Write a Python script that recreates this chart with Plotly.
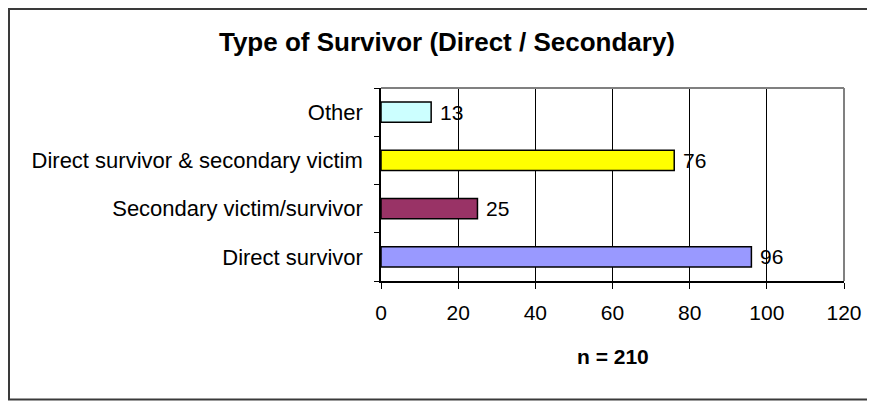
import plotly.graph_objects as go

# ---- data ----
categories = ["Direct survivor", "Secondary victim/survivor",
              "Direct survivor & secondary victim", "Other"]
values = [96, 25, 76, 13]
bar_colors = ["#9999FF", "#993366", "#FFFF00", "#CCFFFF"]
x_ticks = [0, 20, 40, 60, 80, 100, 120]
title_text = "Type of Survivor (Direct / Secondary)"
n_text = "n = 210"

# ---- layout geometry (figure pixels; page adds an 8px body margin) ----
W, H = 875, 401
OFF = 8
PL, PR, PT, PB = 381 - OFF, 844 - OFF, 88 - OFF, 281 - OFF   # plot area edges
FONT = "Liberation Sans, Arial, sans-serif"

def px_x(px):
    return (px - PL) / (PR - PL)

def px_y(py):
    return (PB - py) / (PB - PT)

fig = go.Figure(go.Bar(
    x=values, y=categories, orientation="h",
    marker=dict(color=bar_colors, line=dict(color="black", width=1.5)),
    hoverinfo="skip",
))

# value labels
for v, c in zip(values, categories):
    fig.add_annotation(x=v, y=c, xref="x", yref="y", text=str(v),
                       showarrow=False, xanchor="left", xshift=7,
                       font=dict(family=FONT, size=21, color="black"))

# n = 210
fig.add_annotation(x=0.5, y=px_y(356 - OFF), xref="paper", yref="paper",
                   text="<b>%s</b>" % n_text, showarrow=False,
                   xanchor="center", yanchor="middle",
                   font=dict(family=FONT, size=21, color="black"))

shapes = [
    # plot-area border top and right (gray)
    dict(type="line", xref="paper", yref="paper", x0=0, x1=1, y0=1, y1=1,
         line=dict(color="#808080", width=2)),
    dict(type="line", xref="paper", yref="paper", x0=1, x1=1, y0=0, y1=1,
         line=dict(color="#808080", width=2)),
    # outer chart frame
    dict(type="rect", xref="paper", yref="paper",
         x0=px_x(1), x1=px_x(900), y0=px_y(391.5), y1=px_y(1),
         line=dict(color="#3a3a3a", width=2), fillcolor="rgba(0,0,0,0)"),
]

fig.update_layout(
    width=W, height=H,
    margin=dict(l=PL, r=W - PR, t=PT, b=H - PB, pad=0),
    paper_bgcolor="white", plot_bgcolor="white",
    showlegend=False,
    bargap=0.585,
    shapes=shapes,
    title=dict(text="<b>%s</b>" % title_text, x=(447 - OFF) / W, xanchor="center",
               xref="container", yref="container", y=1 - (42 - OFF) / H,
               yanchor="middle",
               font=dict(family=FONT, size=26, color="black")),
    xaxis=dict(range=[0, 120], tickvals=x_ticks,
               ticktext=[str(t) for t in x_ticks],
               showgrid=True, gridcolor="black", gridwidth=1,
               showline=True, linecolor="black", linewidth=1.5,
               ticks="outside", ticklen=6, tickcolor="black", tickwidth=1,
               ticklabelstandoff=6,
               zeroline=False, fixedrange=True,
               tickfont=dict(family=FONT, size=21, color="black")),
    yaxis=dict(type="category", categoryorder="array", categoryarray=categories,
               showline=True, linecolor="black", linewidth=1.5,
               ticks="outside", ticklen=5, tickcolor="black", tickwidth=1,
               tickson="boundaries", showgrid=False,
               ticklabelstandoff=12,
               fixedrange=True,
               tickfont=dict(family=FONT, size=22, color="black")),
)

fig.write_html("out.html")
